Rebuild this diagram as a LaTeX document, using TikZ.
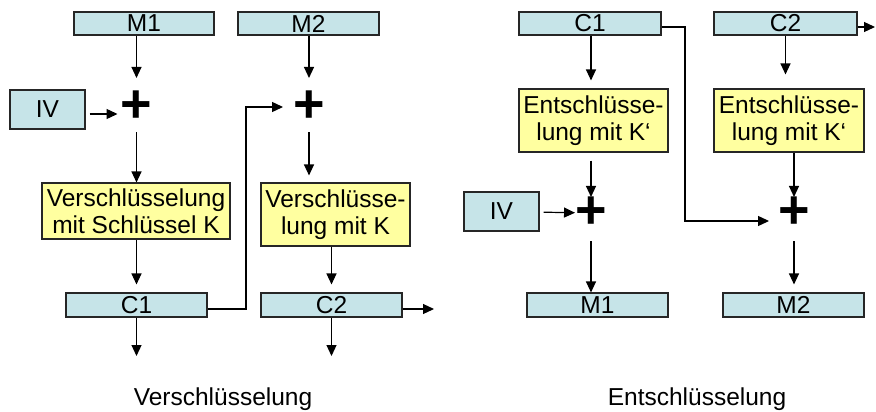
\documentclass[tikz,border=0pt]{standalone}
\usepackage{fontspec}
\setmainfont{Liberation Sans}
\usetikzlibrary{positioning, arrows.meta}
\definecolor{msgblue}{RGB}{198,228,232}
\definecolor{keyyellow}{RGB}{255,255,160}

\begin{document}
\begin{tikzpicture}[x=1pt, y=-1pt, font=\fontsize{24.5}{27}\selectfont,
  blockbox/.style={draw=black!85, line width=1.1pt, fill=msgblue, inner sep=0pt},
  cipherbox/.style={draw=black!85, line width=1.1pt, fill=keyyellow, inner sep=0pt, align=center},
  xorsign/.style={inner sep=0pt, minimum size=26pt, font=\fontsize{54}{54}\selectfont\bfseries},
  arr/.style={-{Triangle[length=11pt,width=10pt]}, line width=1.2pt}]
\useasboundingbox (0,0) rectangle (876,412);

% Verschluesselung
\node[blockbox, minimum width=140pt, minimum height=23pt] (encM1) at (144,23.5) {M1};
\node[blockbox, minimum width=141pt, minimum height=23pt] (encM2) at (308.5,23.5) {M2};
\node[blockbox, minimum width=75pt, minimum height=39pt] (encIV) at (47.5,109.5) {IV};
\node[xorsign] (encP1) at (136.5,107) {+};
\node[xorsign] (encP2) at (309,107) {+};
\node[cipherbox, minimum width=188pt, minimum height=56pt] (encBox1) at (136,211) {Verschlüsselung\\mit Schlüssel K};
\node[cipherbox, minimum width=149pt, minimum height=63pt] (encBox2) at (335.5,214.5) {Verschlüsse-\\lung mit K};
\node[blockbox, minimum width=141pt, minimum height=24pt] (encC1) at (136.5,305) {C1};
\node[blockbox, minimum width=141pt, minimum height=24pt] (encC2) at (331.5,305) {C2};
\coordinate (encTurn) at (246,107);
\coordinate (encC1out) at (136.5,356);
\coordinate (encC2out) at (331.5,356);
\coordinate (encC2right) at (434,309);
\node (encTitle) at (223,399) {Verschlüsselung};

\draw[arr, shorten >=13pt] (encP1 |- encM1.south) -- (encP1);
\draw[arr, shorten <=4pt, shorten >=3pt] ([yshift=-4.5pt]encIV.east) -- ([yshift=-7pt]encP1.west);
\draw[arr, shorten <=9pt] (encP1) -- (encP1 |- encBox1.north);
\draw[arr, shorten >=8pt] (encC1 |- encBox1.south) -- (encC1.north);
\draw[arr] (encC1) -- (encC1out);
\draw[arr, shorten >=10pt] ([yshift=-4pt]encC1.east) -| (encTurn) -- (encP2);
\draw[arr, shorten >=13pt] (encP2 |- encM2.south) -- (encP2);
\draw[arr, shorten <=9pt, shorten >=7pt] (encP2) -- (encP2 |- encBox2.north);
\draw[arr, shorten >=8pt] (encC2 |- encBox2.south) -- (encC2.north);
\draw[arr] (encC2) -- (encC2out);
\draw[arr] ([yshift=-4pt]encC2.east) -- (encC2right);

% Entschluesselung
\node[blockbox, minimum width=142pt, minimum height=23pt] (decC1) at (590,23.5) {C1};
\node[blockbox, minimum width=143pt, minimum height=23pt] (decC2) at (785.5,23.5) {C2};
\node[cipherbox, minimum width=149pt, minimum height=63pt] (decBox3) at (593.5,120.5) {Entschlüsse-\\lung mit K‘};
\node[cipherbox, minimum width=150pt, minimum height=63pt] (decBox4) at (789,120.5) {Entschlüsse-\\lung mit K‘};
\node[blockbox, minimum width=75pt, minimum height=39pt] (decIV) at (501.5,211.5) {IV};
\node[xorsign] (decP3) at (591,213) {+};
\node[xorsign] (decP4) at (794,213) {+};
\node[blockbox, minimum width=141pt, minimum height=24pt] (decM1) at (597.5,305) {M1};
\node[blockbox, minimum width=141pt, minimum height=24pt] (decM2) at (793.5,305) {M2};
\coordinate (decTurn) at (685,221);
\coordinate (decC2right) at (875,27);
\node (decTitle) at (697,399) {Entschlüsselung};

\draw[arr, shorten >=8pt] (decP3 |- decC1.south) -- (decP3 |- decBox3.north);
\draw[arr, shorten >=14pt] (decC2.south) -- (decC2 |- decBox4.north);
\draw[arr] ([yshift=-3.5pt]decC2.east) -- (decC2right);
\draw[arr, shorten <=8pt] (decP3 |- decBox3.south) -- (decP3);
\draw[arr, shorten <=4pt] (decIV) -- (decP3);
\draw[arr, shorten <=12pt] (decP3) -- (decP3 |- decM1.north);
\draw[arr] (decP4 |- decBox4.south) -- (decP4);
\draw[arr, shorten <=12pt, shorten >=8pt] (decP4) -- (decP4 |- decM2.north);
\draw[arr, shorten >=9pt] ([yshift=-3.5pt]decC1.east) -| (decTurn) -- ([yshift=-8pt]decP4.west);
\end{tikzpicture}
\end{document}
